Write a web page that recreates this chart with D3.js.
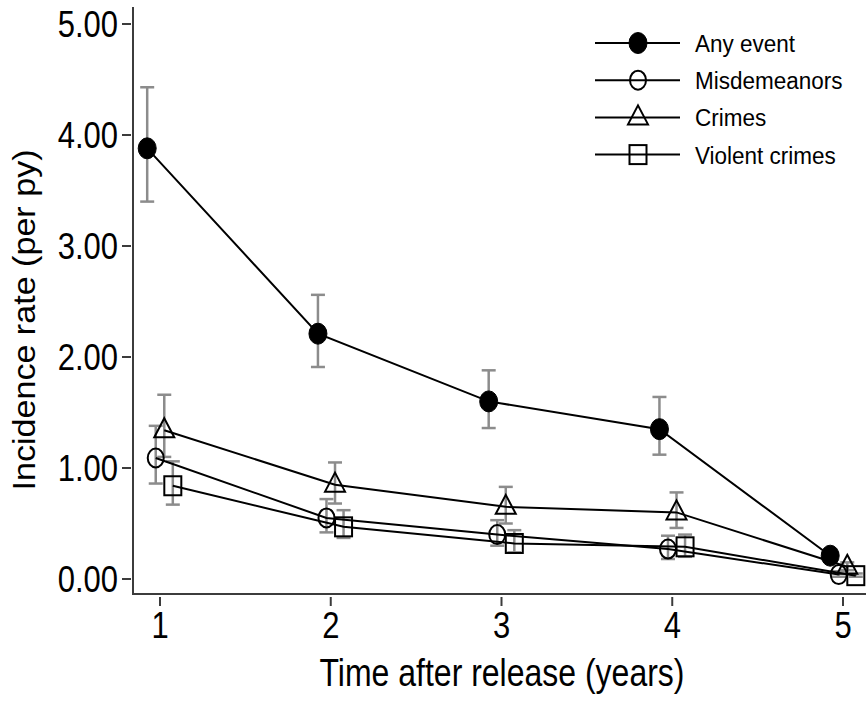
<!DOCTYPE html>
<html>
<head>
<meta charset="utf-8">
<script src="https://cdn.jsdelivr.net/npm/d3@7/dist/d3.min.js"></script>
<style>
	body { margin: 0; background: #fff; }
	svg { display: block; font-family: "Liberation Sans", Arial, sans-serif; }
</style>
</head>
<body>
<svg id="chart" width="866" height="705"></svg>
<script>
/*=================
=== Data
=================*/
const years = [1, 2, 3, 4, 5];
const yTicks = [0, 1, 2, 3, 4, 5];

const seriesNames = ['Any event', 'Misdemeanors', 'Crimes', 'Violent crimes'];

const anyEvent = [3.88, 2.21, 1.60, 1.35, 0.21];
const anyEventLo = [3.40, 1.91, 1.36, 1.12, 0.17];
const anyEventHi = [4.43, 2.56, 1.88, 1.64, 0.25];

const misdemeanors = [1.09, 0.55, 0.40, 0.27, 0.04];
const misdemeanorsLo = [0.86, 0.42, 0.30, 0.18, 0.02];
const misdemeanorsHi = [1.38, 0.72, 0.53, 0.39, 0.07];

const crimes = [1.34, 0.85, 0.65, 0.60, 0.11];
const crimesLo = [1.10, 0.68, 0.50, 0.46, 0.08];
const crimesHi = [1.66, 1.05, 0.83, 0.78, 0.15];

const violentCrimes = [0.84, 0.47, 0.32, 0.29, 0.03];
const violentCrimesLo = [0.67, 0.37, 0.24, 0.20, 0.02];
const violentCrimesHi = [1.06, 0.62, 0.44, 0.40, 0.05];

// small horizontal shift per series so the points don't overlap (years)
const jitter = [-0.075, -0.025, 0.025, 0.075];

/*=================
=== Build the series
=================*/
const series = [
	{ name: seriesNames[0], marker: 'filled', vals: anyEvent, lo: anyEventLo, hi: anyEventHi },
	{ name: seriesNames[1], marker: 'circle', vals: misdemeanors, lo: misdemeanorsLo, hi: misdemeanorsHi },
	{ name: seriesNames[2], marker: 'triangle', vals: crimes, lo: crimesLo, hi: crimesHi },
	{ name: seriesNames[3], marker: 'square', vals: violentCrimes, lo: violentCrimesLo, hi: violentCrimesHi },
].map((s, si) => {
	s.points = years.map((yr, i) => ({
		x: yr + jitter[si],
		y: s.vals[i],
		lo: s.lo[i],
		hi: s.hi[i]
	}));
	return s;
});

/*=================
=== Svg + scales
=================*/
const svg = d3.select('#chart');

const plotLeft = 133;
const plotRight = 866;
const plotBottom = 595;
const plotTop = 7;

const stretch = 1.2; // the original export is a bit taller than wide

const xScale = d3.scaleLinear()
	.domain([1, 5])
	.range([160, 843]);
const yScale = d3.scaleLinear()
	.domain([0, 5])
	.range([579, 24]);

const axisColor = '#3c3c3c';
const barColor = '#8c8c8c';

// stretched text helper
function label(parent, x, y, txt, size, anchor, k, rotate) {
	const g = parent.append('g')
		.attr('transform', `translate(${x},${y}) scale(1,${k})` + (rotate ? ' rotate(-90)' : ''));
	g.append('text')
		.attr('text-anchor', anchor)
		.attr('font-size', size)
		.attr('fill', '#000')
		.text(txt);
	return g;
}

/*=================
=== Axes
=================*/
const axes = svg.append('g').attr('class', 'axes');

axes.append('line')
	.attr('x1', plotLeft).attr('x2', plotLeft)
	.attr('y1', plotTop).attr('y2', plotBottom)
	.attr('stroke', axisColor).attr('stroke-width', 2);
axes.append('line')
	.attr('x1', plotLeft - 1).attr('x2', plotRight)
	.attr('y1', plotBottom - 1).attr('y2', plotBottom - 1)
	.attr('stroke', axisColor).attr('stroke-width', 2);

// y ticks
axes.selectAll('.ytick')
	.data(yTicks)
	.enter()
	.append('line')
	.attr('class', 'ytick')
	.attr('x1', 122).attr('x2', 131)
	.attr('y1', d => yScale(d)).attr('y2', d => yScale(d))
	.attr('stroke', axisColor).attr('stroke-width', 2);

yTicks.forEach(d => {
	label(axes, 118, yScale(d) + 13, d3.format('.2f')(d), 31, 'end', stretch);
});

// x ticks
axes.selectAll('.xtick')
	.data(years)
	.enter()
	.append('line')
	.attr('class', 'xtick')
	.attr('x1', d => xScale(d)).attr('x2', d => xScale(d))
	.attr('y1', 597).attr('y2', 606)
	.attr('stroke', axisColor).attr('stroke-width', 2);

years.forEach(d => {
	label(axes, xScale(d), 638, d, 31, 'middle', stretch);
});

// titles
label(axes, 502, 686, 'Time after release (years)', 32, 'middle', stretch);
label(axes, 35, 320, 'Incidence rate (per py)', 31, 'middle', 1.1, true);

/*=================
=== Markers
=================*/
function drawMarker(g, type) {
	if (type === 'filled') {
		g.append('ellipse').attr('rx', 9).attr('ry', 10.5)
			.attr('fill', '#000').attr('stroke', '#000').attr('stroke-width', 1);
	} else if (type === 'circle') {
		g.append('ellipse').attr('rx', 8).attr('ry', 9.5)
			.attr('fill', 'none').attr('stroke', '#000').attr('stroke-width', 2);
	} else if (type === 'triangle') {
		g.append('path').attr('d', 'M0,-12L10,7L-10,7Z')
			.attr('fill', 'none').attr('stroke', '#000').attr('stroke-width', 2);
	} else {
		g.append('rect').attr('x', -8.5).attr('y', -9.5).attr('width', 17).attr('height', 19)
			.attr('fill', 'none').attr('stroke', '#000').attr('stroke-width', 2);
	}
}

/*=================
=== Error bars, lines, points
=================*/
const plot = svg.append('g').attr('class', 'plot');

const bars = plot.append('g').attr('class', 'errorbars');
series.forEach(s => {
	const eb = bars.selectAll(null)
		.data(s.points)
		.enter()
		.append('g')
		.attr('stroke', barColor)
		.attr('stroke-width', 2.5);
	eb.append('line')
		.attr('x1', d => xScale(d.x)).attr('x2', d => xScale(d.x))
		.attr('y1', d => yScale(d.lo)).attr('y2', d => yScale(d.hi));
	eb.append('line')
		.attr('x1', d => xScale(d.x) - 7).attr('x2', d => xScale(d.x) + 7)
		.attr('y1', d => yScale(d.hi)).attr('y2', d => yScale(d.hi));
	eb.append('line')
		.attr('x1', d => xScale(d.x) - 7).attr('x2', d => xScale(d.x) + 7)
		.attr('y1', d => yScale(d.lo)).attr('y2', d => yScale(d.lo));
});

const line = d3.line()
	.x(d => xScale(d.x))
	.y(d => yScale(d.y));

plot.selectAll('.series-line')
	.data(series)
	.enter()
	.append('path')
	.attr('class', 'series-line')
	.attr('d', s => line(s.points))
	.attr('fill', 'none')
	.attr('stroke', '#000')
	.attr('stroke-width', 2);

series.forEach(s => {
	plot.selectAll(null)
		.data(s.points)
		.enter()
		.append('g')
		.attr('transform', d => `translate(${xScale(d.x)},${yScale(d.y)})`)
		.each(function () { drawMarker(d3.select(this), s.marker); });
});

/*=================
=== Legend
=================*/
const legend = svg.append('g').attr('class', 'legend');
series.forEach((s, i) => {
	const y = 43 + i * 37.2;
	legend.append('line')
		.attr('x1', 595).attr('x2', 680)
		.attr('y1', y).attr('y2', y)
		.attr('stroke', '#000').attr('stroke-width', 2);
	const m = legend.append('g').attr('transform', `translate(638,${y})`);
	drawMarker(m, s.marker);
	label(legend, 695, y + 9, s.name, 22.5, 'start', 1.1);
});
</script>
</body>
</html>
